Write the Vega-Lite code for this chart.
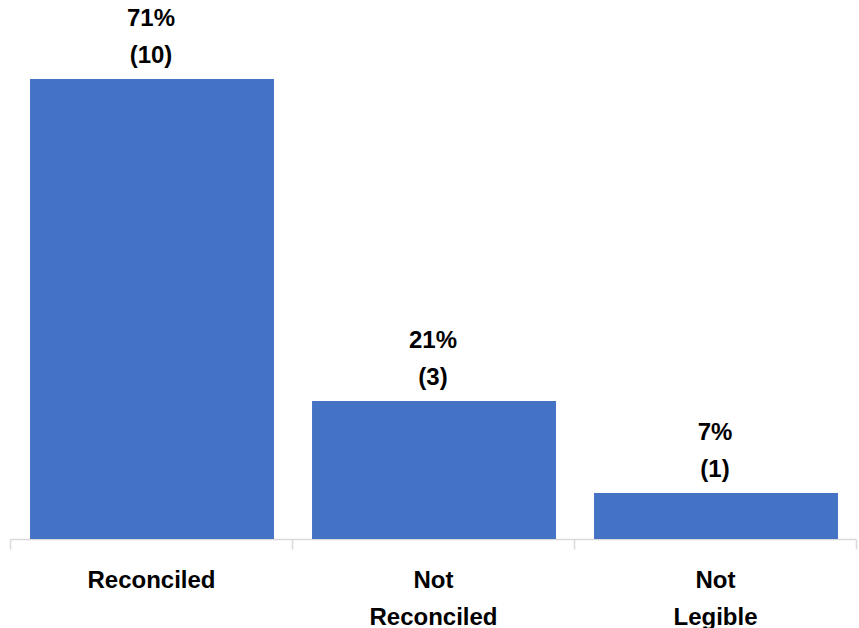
{
  "$schema": "https://vega.github.io/schema/vega-lite/v6.json",
  "autosize": {"type": "none"},
  "width": 846,
  "height": 539,
  "padding": {"left": 10, "top": 0, "right": 3, "bottom": 89},
  "background": "white",
  "config": {"view": {"stroke": null}, "font": "Liberation Sans"},
  "data": {
    "values": [
      {"status": "Reconciled", "count": 10, "label": ["71%", "(10)"]},
      {"status": "Not Reconciled", "count": 3, "label": ["21%", "(3)"]},
      {"status": "Not Legible", "count": 1, "label": ["7%", "(1)"]}
    ]
  },
  "encoding": {
    "x": {
      "field": "status",
      "type": "nominal",
      "sort": null,
      "scale": {"paddingInner": 0, "paddingOuter": 0},
      "axis": {
        "title": null,
        "labelAngle": 0,
        "labelExpr": "split(datum.label, ' ')",
        "labelFont": "Liberation Sans",
        "labelFontSize": 24,
        "labelFontWeight": "bold",
        "labelColor": "#000000",
        "labelLineHeight": 37,
        "labelPadding": 19,
        "labelBaseline": "top",
        "domainColor": "#d9d9d9",
        "domainWidth": 1.5,
        "tickColor": "#d9d9d9",
        "tickWidth": 1.5,
        "tickSize": 10,
        "tickBand": "extent"
      }
    },
    "y": {
      "field": "count",
      "type": "quantitative",
      "scale": {"domain": [0, 11.72], "nice": false},
      "axis": null
    }
  },
  "layer": [
    {"mark": {"type": "bar", "color": "#4472C4", "width": {"band": 0.865}, "xOffset": 1}},
    {
      "mark": {
        "type": "text",
        "baseline": "alphabetic",
        "align": "center",
        "dy": -53,
        "fontSize": 24,
        "fontWeight": "bold",
        "lineHeight": 37,
        "color": "#000000",
        "font": "Liberation Sans"
      },
      "encoding": {"text": {"field": "label"}}
    }
  ]
}
